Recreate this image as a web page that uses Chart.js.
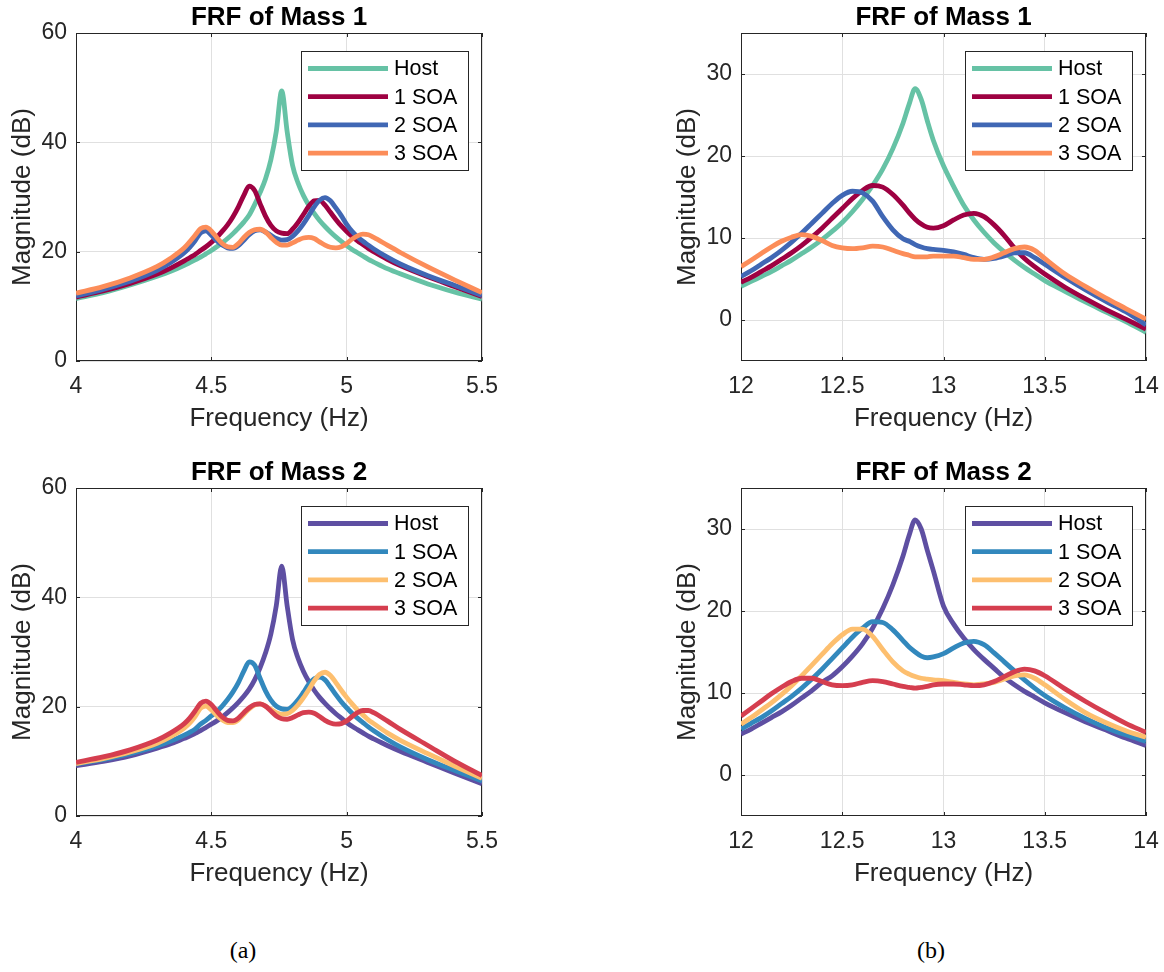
<!DOCTYPE html>
<html>
<head>
<meta charset="utf-8">
<script src="https://cdn.jsdelivr.net/npm/chart.js@4.4.1/dist/chart.umd.min.js"></script>
<style>
  body { margin: 0; background: #fff; width: 1164px; height: 972px; position: relative; overflow: hidden; }
  canvas { position: absolute; }
  .cap { position: absolute; font: 24px "Liberation Serif", "Times New Roman", serif; line-height: 28px; color: #000; transform: translateX(-50%); }
</style>
</head>
<body>
<canvas id="m1-low" width="582" height="450" style="left:0;top:0"></canvas>
<canvas id="m1-high" width="499" height="450" style="left:665px;top:0"></canvas>
<canvas id="m2-low" width="582" height="450" style="left:0;top:455px"></canvas>
<canvas id="m2-high" width="499" height="450" style="left:665px;top:455px"></canvas>
<div class="cap" style="left:243px;top:936px">(a)</div>
<div class="cap" style="left:931px;top:936px">(b)</div>
<script>
const seriesNames = ['Host', '1 SOA', '2 SOA', '3 SOA'];

// first mode, 4 - 5.5 Hz
const freqLow = [4.0, 4.1, 4.2, 4.3, 4.35, 4.4, 4.42, 4.44, 4.46, 4.48, 4.5, 4.52, 4.54, 4.56, 4.58, 4.6, 4.62, 4.64, 4.66, 4.68,
  4.7, 4.72, 4.74, 4.76, 4.78, 4.8, 4.82, 4.84, 4.86, 4.88, 4.9, 4.92, 4.94, 4.96, 4.98, 5.0, 5.02, 5.04, 5.06, 5.08,
  5.1, 5.15, 5.2, 5.3, 5.4, 5.5];
const xTicksLow = [4, 4.5, 5, 5.5];
const yTicksLow = [0, 20, 40, 60];

const m1LowHost = [11.4, 12.5, 13.9, 15.5, 16.4, 17.5, 18.0, 18.5, 19.0, 19.6, 20.2, 20.9, 21.6, 22.4, 23.3, 24.3, 25.4, 26.7, 28.6, 30.8,
  33.3, 36.8, 42.0, 49.4, 42.0, 35.8, 32.6, 30.3, 28.5, 27.0, 25.7, 24.6, 23.6, 22.7, 21.9, 21.1, 20.4, 19.8, 19.2, 18.6,
  18.1, 16.9, 15.9, 14.1, 12.6, 11.3];
const m1Low1 = [11.7, 12.8, 14.2, 15.9, 17.0, 18.3, 18.9, 19.5, 20.2, 20.9, 21.7, 22.6, 23.7, 24.9, 26.4, 28.2, 30.3, 32.0, 31.2, 28.8,
  26.5, 24.8, 23.8, 23.4, 23.3, 24.1, 25.3, 26.8, 28.3, 29.3, 29.4, 28.5, 27.2, 25.9, 24.7, 23.7, 22.8, 22.0, 21.3, 20.6,
  20.0, 18.6, 17.4, 15.4, 13.6, 11.8];
const m1Low2 = [11.9, 13.1, 14.6, 16.6, 18.0, 19.8, 20.8, 22.0, 23.4, 23.8, 23.0, 22.0, 21.2, 20.7, 20.6, 21.1, 22.1, 23.1, 23.8, 24.0,
  23.6, 23.0, 22.4, 22.1, 22.2, 22.8, 23.8, 25.1, 26.6, 28.2, 29.4, 29.9, 29.3, 28.0, 26.6, 25.0, 23.7, 22.7, 21.9, 21.2,
  20.5, 19.0, 17.7, 15.6, 13.8, 12.0];
const m1Low3 = [12.4, 13.6, 15.2, 17.3, 18.8, 20.7, 21.8, 23.0, 24.2, 24.5, 23.8, 22.6, 21.5, 20.9, 20.8, 21.5, 22.6, 23.5, 24.0, 24.1,
  23.6, 22.6, 21.7, 21.2, 21.2, 21.6, 22.1, 22.5, 22.6, 22.4, 21.8, 21.2, 20.8, 20.7, 20.9, 21.5, 22.3, 22.9, 23.2, 23.1,
  22.6, 21.2, 19.8, 17.2, 14.8, 12.5];

const m2LowHost = [9.2, 10.0, 11.0, 12.4, 13.2, 14.2, 14.6, 15.1, 15.6, 16.2, 16.8, 17.4, 18.1, 18.9, 19.8, 20.8, 21.9, 23.2, 24.9, 27.1,
  29.8, 33.3, 38.5, 45.7, 38.5, 32.3, 28.9, 26.5, 24.6, 23.0, 21.7, 20.6, 19.6, 18.7, 17.9, 17.1, 16.4, 15.8, 15.2, 14.6,
  14.1, 12.9, 11.8, 9.8, 7.8, 5.9];
const m2Low1 = [9.5, 10.3, 11.4, 12.8, 13.7, 14.8, 15.3, 15.9, 16.8, 17.5, 18.3, 19.1, 20.1, 21.3, 22.7, 24.4, 26.5, 28.2, 27.6, 25.2,
  22.9, 21.2, 20.1, 19.6, 19.5, 20.1, 21.2, 22.6, 24.1, 25.1, 25.4, 24.9, 23.6, 22.2, 20.9, 19.8, 18.8, 17.9, 17.1, 16.3,
  15.6, 14.0, 12.6, 10.3, 8.3, 6.4];
const m2Low2 = [9.6, 10.5, 11.7, 13.3, 14.5, 16.1, 17.0, 18.2, 19.7, 20.1, 19.4, 18.4, 17.6, 17.1, 17.1, 17.6, 18.6, 19.6, 20.3, 20.5,
  20.1, 19.5, 18.9, 18.6, 18.7, 19.3, 20.3, 21.6, 23.1, 24.7, 25.9, 26.3, 25.7, 24.4, 23.0, 21.7, 20.5, 19.4, 18.5, 17.6,
  16.9, 15.2, 13.8, 11.4, 9.1, 6.9];
const m2Low3 = [9.8, 10.8, 12.1, 13.9, 15.2, 16.9, 17.9, 19.2, 20.6, 21.0, 20.4, 19.2, 18.1, 17.5, 17.4, 17.9, 18.9, 19.8, 20.4, 20.5,
  20.1, 19.2, 18.3, 17.8, 17.7, 18.0, 18.5, 18.9, 19.0, 18.8, 18.2, 17.5, 17.0, 16.8, 16.9, 17.4, 18.2, 18.9, 19.3, 19.3,
  18.9, 17.4, 15.8, 12.9, 10.0, 7.4];

// second mode, 12 - 14 Hz
const freqHigh = [12.0, 12.05, 12.1, 12.15, 12.2, 12.25, 12.3, 12.35, 12.4, 12.45, 12.5, 12.55, 12.6, 12.65, 12.7, 12.75, 12.8, 12.83, 12.86, 12.89,
  12.92, 12.95, 13.0, 13.05, 13.1, 13.15, 13.2, 13.25, 13.3, 13.35, 13.4, 13.45, 13.5, 13.6, 13.7, 13.8, 13.9, 14.0];
const xTicksHigh = [12, 12.5, 13, 13.5, 14];
const yTicksHigh = [0, 10, 20, 30];

const m1HighHost = [4.1, 4.7, 5.3, 5.9, 6.6, 7.3, 8.1, 8.9, 9.8, 10.8, 11.9, 13.2, 14.7, 16.4, 18.4, 20.9, 24.0, 26.3, 28.2, 26.9,
  24.3, 21.9, 18.8, 16.3, 14.0, 12.2, 10.7, 9.4, 8.3, 7.3, 6.4, 5.6, 4.8, 3.5, 2.2, 1.0, -0.2, -1.5];
const m1High1 = [4.6, 5.2, 5.9, 6.6, 7.4, 8.2, 9.1, 10.1, 11.2, 12.4, 13.6, 14.8, 15.8, 16.4, 16.2, 15.3, 14.0, 13.1, 12.3, 11.7,
  11.3, 11.2, 11.5, 12.2, 12.8, 13.0, 12.6, 11.6, 10.3, 8.8, 7.5, 6.5, 5.6, 4.0, 2.6, 1.3, 0.1, -1.1];
const m1High2 = [5.3, 6.0, 6.8, 7.6, 8.5, 9.5, 10.6, 11.8, 13.0, 14.2, 15.2, 15.7, 15.5, 14.5, 12.6, 11.0, 9.9, 9.6, 9.2, 8.9,
  8.7, 8.6, 8.5, 8.3, 8.0, 7.6, 7.4, 7.5, 7.8, 8.2, 8.2, 7.6, 6.8, 5.2, 3.7, 2.3, 1.0, -0.6];
const m1High3 = [6.5, 7.3, 8.1, 8.9, 9.6, 10.1, 10.4, 10.2, 9.7, 9.1, 8.8, 8.7, 8.8, 9.0, 8.9, 8.5, 8.1, 7.9, 7.7, 7.7,
  7.7, 7.8, 7.8, 7.8, 7.6, 7.4, 7.4, 7.7, 8.2, 8.7, 8.9, 8.5, 7.5, 5.6, 4.1, 2.7, 1.4, 0.1];

const m2HighHost = [5.0, 5.6, 6.3, 7.0, 7.7, 8.5, 9.4, 10.3, 11.3, 12.1, 13.2, 14.5, 16.0, 17.9, 20.3, 23.2, 26.7, 29.2, 31.1, 30.0,
  27.4, 24.9, 20.6, 18.4, 16.7, 15.3, 14.1, 13.0, 11.9, 11.0, 10.2, 9.5, 8.8, 7.6, 6.5, 5.5, 4.5, 3.6];
const m2High1 = [5.6, 6.3, 7.0, 7.8, 8.7, 9.6, 10.6, 11.7, 12.9, 14.2, 15.5, 16.8, 17.9, 18.7, 18.6, 17.7, 16.4, 15.6, 15.0, 14.5,
  14.3, 14.4, 14.8, 15.5, 16.1, 16.3, 15.9, 14.9, 13.8, 12.7, 11.6, 10.6, 9.7, 8.2, 6.9, 5.8, 4.9, 4.1];
const m2High2 = [6.2, 7.0, 7.9, 8.8, 9.8, 10.9, 12.1, 13.4, 14.7, 16.0, 17.1, 17.8, 17.8, 16.9, 15.3, 13.8, 12.7, 12.3, 12.0, 11.8,
  11.7, 11.6, 11.5, 11.3, 11.1, 11.0, 11.1, 11.3, 11.7, 12.1, 12.2, 11.8, 11.0, 9.2, 7.6, 6.4, 5.4, 4.6];
const m2High3 = [7.2, 8.1, 9.0, 9.9, 10.7, 11.4, 11.8, 11.8, 11.4, 11.0, 10.9, 11.0, 11.3, 11.5, 11.4, 11.1, 10.8, 10.7, 10.6, 10.7,
  10.8, 11.0, 11.1, 11.1, 11.0, 10.9, 11.0, 11.4, 12.0, 12.6, 12.9, 12.7, 12.1, 10.5, 9.0, 7.6, 6.3, 5.2];

const colorsMass1 = ['#66C2A5', '#9E0142', '#4067B4', '#FC8D59'];
const colorsMass2 = ['#5E4FA2', '#3288BD', '#FDBF6F', '#D53E4F'];

const FONT = '"Liberation Sans", Arial, Helvetica, sans-serif';
const INK = '#262626';

// MATLAB-like box, inward ticks, bold title and boxed legend
const framePlugin = {
  id: 'frame',
  beforeDatasetsDraw(chart) {
    const { ctx, chartArea: a, scales: { x, y } } = chart;
    ctx.save();
    ctx.strokeStyle = INK;
    ctx.lineWidth = 1;
    ctx.beginPath();
    x.ticks.forEach(t => {
      const px = Math.round(x.getPixelForValue(t.value)) + 0.5;
      ctx.moveTo(px, a.bottom); ctx.lineTo(px, a.bottom - 4);
      ctx.moveTo(px, a.top); ctx.lineTo(px, a.top + 4);
    });
    y.ticks.forEach(t => {
      const py = Math.round(y.getPixelForValue(t.value)) + 0.5;
      ctx.moveTo(a.left, py); ctx.lineTo(a.left + 4, py);
      ctx.moveTo(a.right, py); ctx.lineTo(a.right - 4, py);
    });
    ctx.stroke();
    ctx.strokeRect(a.left + 0.5, a.top + 0.5, a.right - a.left - 1, a.bottom - a.top - 1);
    ctx.restore();
  },
  afterDatasetsDraw(chart, args, opts) {
    const { ctx, chartArea: a } = chart;
    ctx.save();
    ctx.fillStyle = '#000';
    ctx.font = 'bold 26px ' + FONT;
    ctx.textAlign = 'center';
    ctx.textBaseline = 'alphabetic';
    ctx.fillText(opts.title, (a.left + a.right) / 2, a.top - 8);

    const bx = a.right - 181, by = a.top + 18, bw = 167, bh = 119;
    ctx.fillStyle = '#fff';
    ctx.fillRect(bx, by, bw, bh);
    ctx.strokeStyle = INK;
    ctx.lineWidth = 1;
    ctx.strokeRect(bx + 0.5, by + 0.5, bw, bh);
    ctx.font = '21.5px ' + FONT;
    ctx.textAlign = 'left';
    ctx.textBaseline = 'middle';
    chart.data.datasets.forEach((ds, i) => {
      const ry = by + 17.5 + i * 28.2;
      ctx.strokeStyle = ds.borderColor;
      ctx.lineWidth = 4.8;
      ctx.beginPath();
      ctx.moveTo(bx + 7, ry);
      ctx.lineTo(bx + 87, ry);
      ctx.stroke();
      ctx.fillStyle = '#000';
      ctx.fillText(ds.label, bx + 93, ry + 1);
    });
    ctx.restore();
  }
};

function createFrfChart(id, cfg) {
  const ctx = document.getElementById(id);
  if (!ctx) return;

  new Chart(ctx, {
    type: 'line',
    data: {
      datasets: cfg.series.map((vals, i) => ({
        label: seriesNames[i],
        data: cfg.freq.map((f, k) => ({ x: f, y: vals[k] })),
        borderColor: cfg.colors[i],
        borderWidth: 4.8,
        borderJoinStyle: 'round',
        pointRadius: 0,
        cubicInterpolationMode: 'monotone',
        order: cfg.series.length - i
      }))
    },
    options: {
      responsive: false,
      animation: false,
      devicePixelRatio: 1,
      layout: { padding: { top: 33, right: cfg.padRight, left: 0, bottom: 0 } },
      plugins: {
        legend: { display: false },
        tooltip: { enabled: false },
        frame: { title: cfg.title }
      },
      scales: {
        x: {
          type: 'linear',
          min: cfg.xTicks[0],
          max: cfg.xTicks[cfg.xTicks.length - 1],
          afterBuildTicks: s => { s.ticks = cfg.xTicks.map(v => ({ value: v })); },
          afterFit: s => { s.height = 89; s.paddingLeft = 0; s.paddingRight = 0; },
          grid: { color: '#e0e0e0', drawTicks: false },
          border: { display: false },
          ticks: { padding: 12, color: INK, font: { size: 23, family: FONT }, maxRotation: 0, autoSkip: false, callback: v => String(v) },
          title: { display: true, text: 'Frequency (Hz)', color: INK, font: { size: 26, family: FONT }, padding: { top: 0, bottom: 16 } }
        },
        y: {
          min: cfg.yMin,
          max: cfg.yMax,
          afterBuildTicks: s => { s.ticks = cfg.yTicks.map(v => ({ value: v })); },
          afterFit: s => { s.width = 76; s.paddingTop = 0; s.paddingBottom = 0; },
          grid: { color: '#e0e0e0', drawTicks: false },
          border: { display: false },
          ticks: { padding: 9, color: INK, font: { size: 23, family: FONT }, callback: v => String(v) },
          title: { display: true, text: 'Magnitude (dB)', color: INK, font: { size: 26, family: FONT }, padding: { top: 7, bottom: 0 } }
        }
      }
    },
    plugins: [framePlugin]
  });
}

createFrfChart('m1-low', {
  title: 'FRF of Mass 1', freq: freqLow, series: [m1LowHost, m1Low1, m1Low2, m1Low3], colors: colorsMass1,
  xTicks: xTicksLow, yTicks: yTicksLow, yMin: 0, yMax: 60, padRight: 100
});
createFrfChart('m1-high', {
  title: 'FRF of Mass 1', freq: freqHigh, series: [m1HighHost, m1High1, m1High2, m1High3], colors: colorsMass1,
  xTicks: xTicksHigh, yTicks: yTicksHigh, yMin: -5, yMax: 35, padRight: 18
});
createFrfChart('m2-low', {
  title: 'FRF of Mass 2', freq: freqLow, series: [m2LowHost, m2Low1, m2Low2, m2Low3], colors: colorsMass2,
  xTicks: xTicksLow, yTicks: yTicksLow, yMin: 0, yMax: 60, padRight: 100
});
createFrfChart('m2-high', {
  title: 'FRF of Mass 2', freq: freqHigh, series: [m2HighHost, m2High1, m2High2, m2High3], colors: colorsMass2,
  xTicks: xTicksHigh, yTicks: yTicksHigh, yMin: -5, yMax: 35, padRight: 18
});
</script>
</body>
</html>
